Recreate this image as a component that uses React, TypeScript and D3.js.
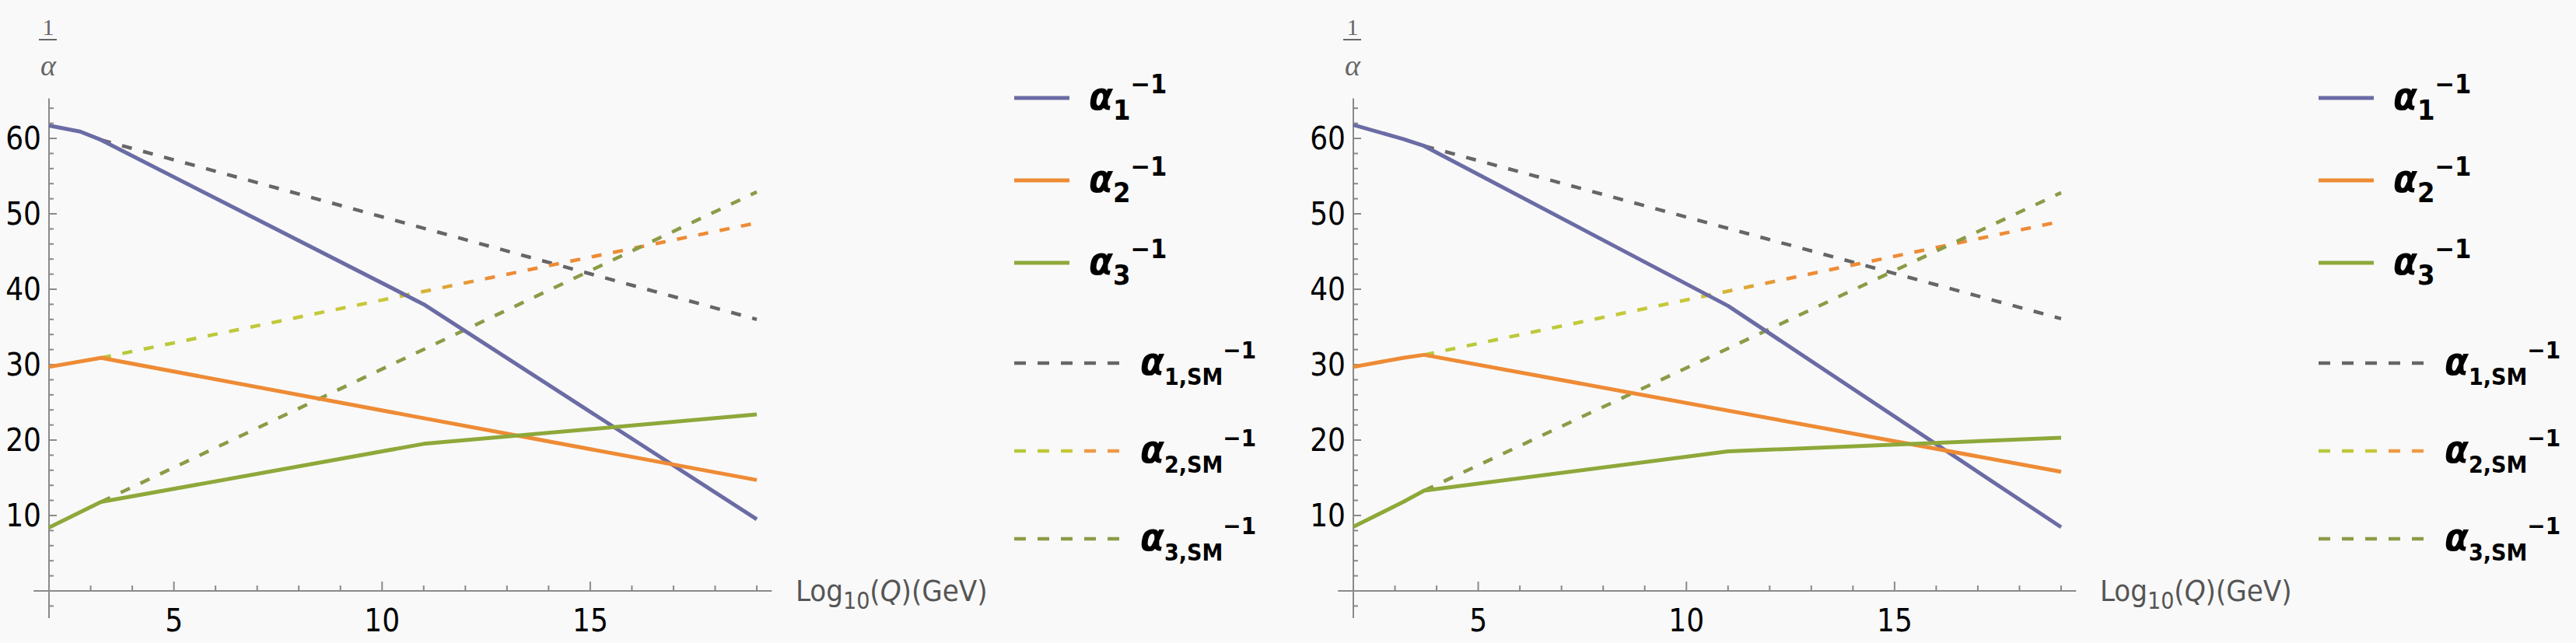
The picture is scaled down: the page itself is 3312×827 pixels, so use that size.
import React from 'react';
import * as d3 from 'd3';

// 图像尺寸
const W = 3312;
const H = 827;

// 左图数据 (log10 Q, 1/alpha)
const left_a1: [number, number][] = [[2, 61.7], [2.75, 60.9], [3.25, 59.8], [11, 38.0], [19, 9.5]];
const left_a2: [number, number][] = [[2, 29.7], [3.25, 30.9], [11, 22.9], [19, 14.7]];
const left_a3: [number, number][] = [[2, 8.4], [3.25, 11.8], [11, 19.5], [19, 23.4]];
const left_a1SM: [number, number][] = [[3.25, 59.8], [19, 36.0]];
const left_a2SM: [number, number][] = [[3.25, 30.9], [19, 48.8]];
const left_a3SM: [number, number][] = [[3.25, 11.8], [19, 52.9]];

// 右图数据
const right_a1: [number, number][] = [[2, 61.8], [3.2, 59.9], [3.7, 59.0], [11, 37.8], [19, 8.45]];
const right_a2: [number, number][] = [[2, 29.7], [3.2, 30.9], [3.7, 31.3], [19, 15.8]];
const right_a3: [number, number][] = [[2, 8.5], [3.2, 11.8], [3.7, 13.3], [11, 18.5], [19, 20.3]];
const right_a1SM: [number, number][] = [[3.7, 59.0], [19, 36.1]];
const right_a2SM: [number, number][] = [[3.7, 31.3], [19, 49.0]];
const right_a3SM: [number, number][] = [[3.7, 13.3], [19, 52.8]];

// 刻度
const xTickLabels = [5, 10, 15];
const yTickLabels = [10, 20, 30, 40, 50, 60];

const C1 = '#6b6ba5';
const C2 = '#ee8b35';
const C3 = '#8ea83a';
const C1SM = '#666666';
const C3SM = '#8a9c46';

const FONT = '"DejaVu Sans Condensed", "DejaVu Sans", sans-serif';

interface PanelProps {
  id: string;
  dx: number;
  a1: [number, number][];
  a2: [number, number][];
  a3: [number, number][];
  a1SM: [number, number][];
  a2SM: [number, number][];
  a3SM: [number, number][];
}

const Panel: React.FC<PanelProps> = ({ id, dx, a1, a2, a3, a1SM, a2SM, a3SM }) => {
  const x = d3.scaleLinear().domain([2, 19]).range([63 + dx, 973 + dx]);
  const y = d3.scaleLinear().domain([0, 60]).range([760, 178]);
  const line = d3.line<[number, number]>().x(d => x(d[0])).y(d => y(d[1]));

  const minorX = d3.range(2, 20, 1);
  const minorY = d3.range(-2, 66, 2);

  const axisColor = '#8a8a8a';

  // 图例
  const lx0 = 1304 + dx;
  const solidRows = [
    { c: C1, sub: '1', y: 126 },
    { c: C2, sub: '2', y: 232 },
    { c: C3, sub: '3', y: 338 },
  ];
  const dashRows = [
    { c: C1SM, sub: '1,SM', y: 467 },
    { c: `url(#grad2-${id})`, sub: '2,SM', y: 580 },
    { c: C3SM, sub: '3,SM', y: 693 },
  ];

  const legendText = (tx: number, ty: number, sub: string, subSize: number, supSize: number) => (
    <text x={tx} y={ty + 15} fontFamily={FONT} fontWeight="bold" fill="#000">
      <tspan fontSize={50} fontStyle="italic">α</tspan>
      <tspan fontSize={subSize} dy={13}>{sub}</tspan>
      <tspan fontSize={supSize} dy={-34}>−1</tspan>
    </text>
  );

  return (
    <g>
      <defs>
        <linearGradient id={`grad2-${id}`} gradientUnits="userSpaceOnUse" x1={x(3)} y1={0} x2={x(19)} y2={0}>
          <stop offset="0%" stopColor="#b5c93c" />
          <stop offset="45%" stopColor="#c9c83a" />
          <stop offset="60%" stopColor="#ee8b35" />
          <stop offset="100%" stopColor="#ee8b35" />
        </linearGradient>
        <linearGradient id={`grad2leg-${id}`} gradientUnits="userSpaceOnUse" x1={lx0} y1={0} x2={lx0 + 138} y2={0}>
          <stop offset="0%" stopColor="#b5c93c" />
          <stop offset="55%" stopColor="#c9c83a" />
          <stop offset="65%" stopColor="#ee9a45" />
          <stop offset="100%" stopColor="#ee9a45" />
        </linearGradient>
      </defs>

      {/* 坐标轴 */}
      <line x1={x(1.63)} x2={x(19.36)} y1={y(0)} y2={y(0)} stroke={axisColor} strokeWidth={2} />
      <line x1={x(2)} x2={x(2)} y1={y(-3.6)} y2={y(65.3)} stroke={axisColor} strokeWidth={2} />
      {minorX.map(v => (
        <line key={`xt${v}`} x1={x(v)} x2={x(v)} y1={y(0)} y2={y(0) - (v % 5 === 0 ? 12 : 7)} stroke={axisColor} strokeWidth={2} />
      ))}
      {minorY.map(v => (
        <line key={`yt${v}`} x1={x(2)} x2={x(2) + (v % 10 === 0 ? 10 : 6)} y1={y(v)} y2={y(v)} stroke={axisColor} strokeWidth={2} />
      ))}
      {xTickLabels.map(v => (
        <text key={`xl${v}`} x={x(v)} y={812} textAnchor="middle" fontFamily={FONT} fontSize={40} fill="#000">{v}</text>
      ))}
      {yTickLabels.map(v => (
        <text key={`yl${v}`} x={x(2) - 10} y={y(v) + 14} textAnchor="end" fontFamily={FONT} fontSize={40} fill="#000">{v}</text>
      ))}

      {/* 轴标题 */}
      <text x={x(2) - 1} y={45} textAnchor="middle" fontFamily='"Liberation Serif", serif' fontSize={30} fill="#666">1</text>
      <line x1={x(2) - 13} x2={x(2) + 10} y1={51} y2={51} stroke="#666" strokeWidth={2} />
      <text x={x(2) - 1} y={97} textAnchor="middle" fontFamily='"Liberation Serif", serif' fontStyle="italic" fontSize={38} fill="#666">α</text>
      <text x={1023 + dx} y={773} fontFamily={FONT} fontSize={38} fill="#555">
        Log<tspan fontSize={30} dy={10}>10</tspan><tspan dy={-10}>(</tspan><tspan fontStyle="italic">Q</tspan>)(GeV)
      </text>

      {/* 曲线 */}
      <path d={line(a1SM) ?? ''} fill="none" stroke={C1SM} strokeWidth={4.5} strokeDasharray="13 15" />
      <path d={line(a2SM) ?? ''} fill="none" stroke={`url(#grad2-${id})`} strokeWidth={4.5} strokeDasharray="13 15" />
      <path d={line(a3SM) ?? ''} fill="none" stroke={C3SM} strokeWidth={4.5} strokeDasharray="13 15" />
      <path d={line(a1) ?? ''} fill="none" stroke={C1} strokeWidth={5} strokeLinejoin="round" />
      <path d={line(a2) ?? ''} fill="none" stroke={C2} strokeWidth={5} strokeLinejoin="round" />
      <path d={line(a3) ?? ''} fill="none" stroke={C3} strokeWidth={5} strokeLinejoin="round" />

      {/* 图例 */}
      {solidRows.map(r => (
        <g key={`ls${r.sub}`}>
          <line x1={lx0} x2={lx0 + 71} y1={r.y} y2={r.y} stroke={r.c} strokeWidth={5} />
          {legendText(1400 + dx, r.y, r.sub, 36, 34)}
        </g>
      ))}
      {dashRows.map((r, i) => (
        <g key={`ld${r.sub}`}>
          <line x1={lx0} x2={lx0 + 138} y1={r.y} y2={r.y}
            stroke={i === 1 ? `url(#grad2leg-${id})` : r.c} strokeWidth={4.5} strokeDasharray="15 15" />
          {legendText(1466 + dx, r.y, r.sub, 30, 31)}
        </g>
      ))}
    </g>
  );
};

const App: React.FC = () => {
  return (
    <div style={{ position: 'absolute', left: 0, top: 0 }}>
      <svg width={W} height={H} style={{ display: 'block', background: '#f9f9f9' }}>
        <Panel id="L" dx={0} a1={left_a1} a2={left_a2} a3={left_a3} a1SM={left_a1SM} a2SM={left_a2SM} a3SM={left_a3SM} />
        <Panel id="R" dx={1677} a1={right_a1} a2={right_a2} a3={right_a3} a1SM={right_a1SM} a2SM={right_a2SM} a3SM={right_a3SM} />
      </svg>
    </div>
  );
};

export default App;
